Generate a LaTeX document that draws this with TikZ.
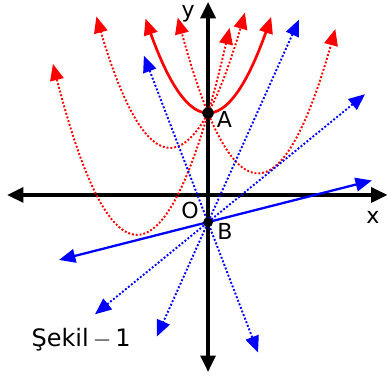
\documentclass[tikz,border=0pt]{standalone}
\usepackage{fontspec}
\setmainfont{DejaVu Sans}
\usepackage{tikz}
\usetikzlibrary{arrows.meta, calc}
\tikzset{
    axis/.style={line width=3.4pt, {Triangle[length=0.6cm, width=0.55cm]}-{Triangle[length=0.6cm, width=0.55cm]}},
    redcurve/.style={red, line width=2.8pt, {Triangle[length=0.6cm, width=0.5cm]}-{Triangle[length=0.6cm, width=0.5cm]}},
    reddot/.style={red, line width=2pt, dash pattern=on 2pt off 2pt, {Triangle[length=0.6cm, width=0.5cm]}-{Triangle[length=0.6cm, width=0.5cm]}},
    blueline/.style={blue, line width=2.4pt, {Triangle[length=0.6cm, width=0.5cm]}-{Triangle[length=0.6cm, width=0.5cm]}},
    bluedot/.style={blue, line width=2pt, dash pattern=on 2pt off 2pt, {Triangle[length=0.6cm, width=0.5cm]}-{Triangle[length=0.6cm, width=0.5cm]}},
    lbl/.style={font=\fontsize{23}{27}\selectfont, inner sep=0pt},
    pt/.style={circle, fill=black, inner sep=0pt, minimum size=#1}
}

\begin{document}
\begin{tikzpicture}
        \useasboundingbox (-7.62,-6.63) rectangle (6.59,7.14);

        % Points
        \coordinate (O) at (0,0);
        \coordinate (A) at (0,3);
        \coordinate (B) at (0,-1);

        % Axes
        \coordinate (xl) at (-7.36,0);
        \coordinate (xr) at (6.57,0);
        \coordinate (yt) at (0,7.07);
        \coordinate (yb) at (0,-6.48);
        \draw[axis] (xl) -- (xr);
        \draw[axis] (yb) -- (yt);

        % Dotted parabolas through A
        \draw[reddot] plot[domain=-5.68:0.79, samples=60, smooth] (\x, {3+0.66*\x*(\x+5.2)});
        \draw[reddot] plot[domain=-4.09:1.35, samples=60, smooth] (\x, {3+0.66*\x*(\x+2.78)});
        \draw[reddot] plot[domain=-1.11:4.66, samples=60, smooth] (\x, {3+0.66*\x*(\x-3.66)});

        % Parabola with vertex A
        \draw[redcurve] plot[domain=-2.29:2.31, samples=60, smooth] (\x, {3+0.66*\x*\x});

        % Lines through B
        \coordinate (l1a) at ($(B)+(-5.46,-1.38)$);
        \coordinate (l1b) at ($(B)+(6.0,1.53)$);
        \coordinate (l2a) at ($(B)+(-2.35,6.1)$);
        \coordinate (l2b) at ($(B)+(1.83,-4.77)$);
        \coordinate (l3a) at ($(B)+(3.33,7.42)$);
        \coordinate (l3b) at ($(B)+(-1.88,-4.19)$);
        \coordinate (l4a) at ($(B)+(5.75,4.69)$);
        \coordinate (l4b) at ($(B)+(-4.14,-3.37)$);
        \draw[bluedot] (l2a) -- (l2b);
        \draw[bluedot] (l3a) -- (l3b);
        \draw[bluedot] (l4a) -- (l4b);
        \draw[blueline] (l1a) -- (l1b);

        % Dots and labels
        \node[pt=0.42cm] (ptA) at (A) {};
        \node[pt=0.36cm] (ptB) at (B) {};
        \node[lbl] (labA) at (0.6,2.76) {A};
        \node[lbl] (labB) at (0.62,-1.34) {B};
        \node[lbl] (labO) at (-0.66,-0.55) {O};
        \node[lbl] (labx) at (6.04,-0.84) {x};
        \node[lbl] (laby) at (-0.73,6.64) {y};
        \node[lbl, font=\fontsize{25}{29}\selectfont] (fig) at (-4.65,-5.31) {Şekil\,$-$\,1};
    \end{tikzpicture}
\end{document}
